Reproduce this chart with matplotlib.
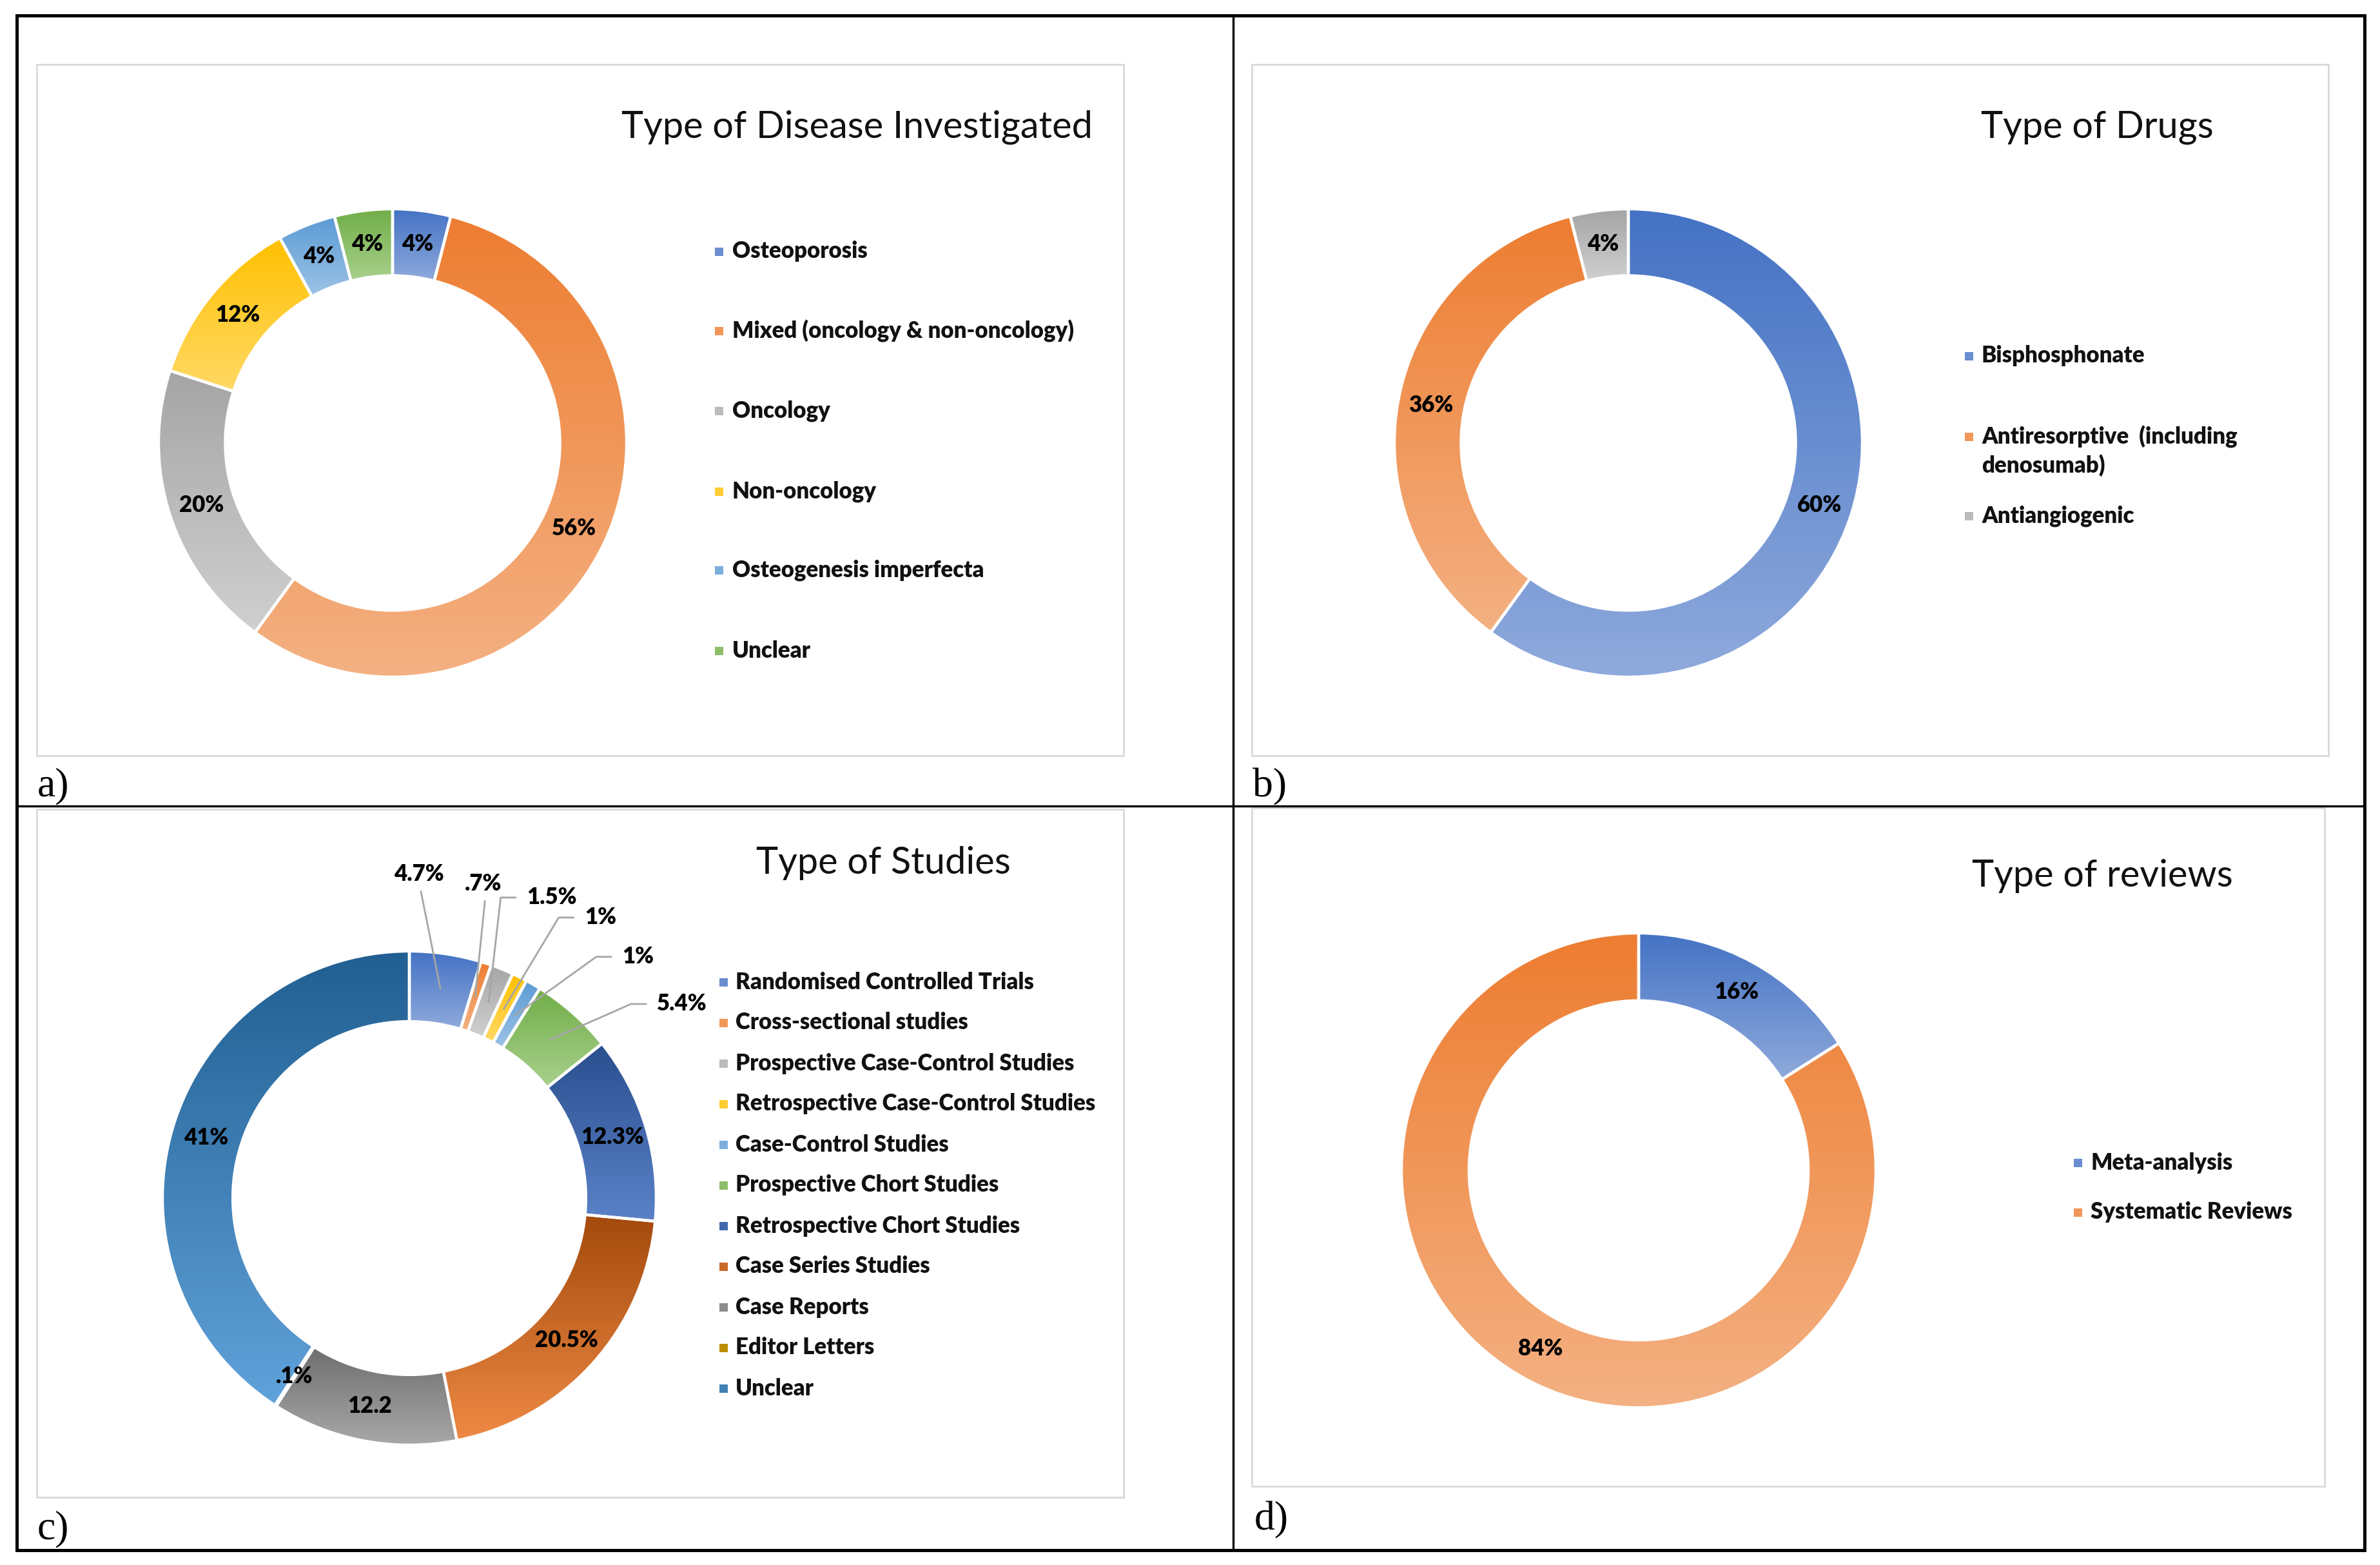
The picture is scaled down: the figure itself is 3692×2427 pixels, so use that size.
import numpy as np
import matplotlib
matplotlib.use('Agg')
import matplotlib.pyplot as plt
from matplotlib.patches import Rectangle
from matplotlib.colors import to_rgb

W, H = 3692, 2427

# ---- data ----
disease_labels = ['Osteoporosis', 'Mixed (oncology & non-oncology)', 'Oncology',
                  'Non-oncology', 'Osteogenesis imperfecta', 'Unclear']
disease_values = [4, 56, 20, 12, 4, 4]
disease_text = ['4%', '56%', '20%', '12%', '4%', '4%']

drug_labels = ['Bisphosphonate', 'Antiresorptive  (including\ndenosumab)', 'Antiangiogenic']
drug_values = [60, 36, 4]
drug_text = ['60%', '36%', '4%']

study_labels = ['Randomised Controlled Trials', 'Cross-sectional studies',
                'Prospective Case-Control Studies', 'Retrospective Case-Control Studies',
                'Case-Control Studies', 'Prospective Chort Studies',
                'Retrospective Chort Studies', 'Case Series Studies', 'Case Reports',
                'Editor Letters', 'Unclear']
study_values = [4.7, 0.7, 1.5, 1, 1, 5.4, 12.3, 20.5, 12.2, 0.1, 41]
study_text = ['4.7%', '.7%', '1.5%', '1%', '1%', '5.4%', '12.3%', '20.5%', '12.2', '.1%', '41%']

review_labels = ['Meta-analysis', 'Systematic Reviews']
review_values = [16, 84]
review_text = ['16%', '84%']

# gradient colours (top, bottom), office palette
blue = ('#4472C4', '#8FAADC')
orange = ('#ED7D31', '#F4B183')
gray = ('#A5A5A5', '#D0D0D0')
gold = ('#FFC000', '#FFD966')
lblue = ('#5B9BD5', '#9DC3E6')
green = ('#70AD47', '#A9D18E')
dblue = ('#2A4F8F', '#5B82C8')
dorange = ('#A34A0C', '#EF8A45')
dgray = ('#6E6E6E', '#A8A8A8')
dgold = ('#997300', '#E0A800')
dlblue = ('#215F92', '#60A2DA')

six = [blue, orange, gray, gold, lblue, green]
study_colors = six + [dblue, dorange, dgray, dgold, dlblue]

FONT = 'Lato'
WEIGHT = 'heavy'
WIDTH = 0.285
LABEL_SIZE = 25


def mix(pair):
    a, b = np.array(to_rgb(pair[0])), np.array(to_rgb(pair[1]))
    return tuple((a + b) / 2)


def donut(cx, cy, R, values, colors, texts, inside):
    ax = fig.add_axes([(cx - R) / W, (H - cy - R) / H, 2 * R / W, 2 * R / H])
    ax.set_zorder(2)
    wedges, _ = ax.pie(values, startangle=90, counterclock=False, radius=1,
                       wedgeprops=dict(width=WIDTH, edgecolor='white', linewidth=3.2))
    for w, c in zip(wedges, colors):
        ext = w.get_path().get_extents()
        grad = np.linspace(to_rgb(c[0]), to_rgb(c[1]), 256)[:, None, :]
        im = ax.imshow(grad, extent=(ext.x0, ext.x1, ext.y0, ext.y1), origin='upper',
                       aspect='auto', interpolation='bilinear', zorder=1)
        im.set_clip_path(w)
        w.set_facecolor('none')
        w.set_zorder(2)
    ax.set_xlim(-1, 1)
    ax.set_ylim(-1, 1)
    ax.set_aspect('equal')
    ax.axis('off')
    rm = 1 - WIDTH / 2
    for i in inside:
        w = wedges[i]
        a = np.deg2rad((w.theta1 + w.theta2) / 2)
        ax.text(rm * np.cos(a), rm * np.sin(a), texts[i], ha='center', va='center',
                fontsize=LABEL_SIZE, fontweight=WEIGHT, family=FONT, color='black', zorder=5)
    return ax, wedges


def legend(labels, colors, mx, tx, rows, gap=45):
    for lab, c, ry in zip(labels, colors, rows):
        base.add_patch(Rectangle((mx - 6.5, ry - 6.5), 13, 13, color=mix(c), lw=0))
        for k, line in enumerate(lab.split('\n')):
            base.text(tx, ry + k * gap, line, ha='left', va='center', fontsize=LABEL_SIZE,
                      fontweight=WEIGHT, family=FONT, color='#111111')


fig = plt.figure(figsize=(W / 100, H / 100), dpi=100)
base = fig.add_axes([0, 0, 1, 1])
base.set_xlim(0, W)
base.set_ylim(H, 0)
base.axis('off')
base.set_zorder(0)

# frame and panel dividers
base.add_patch(Rectangle((26, 24), 3642, 2380, fill=False, ec='black', lw=3.6))
base.plot([1913, 1913], [24, 2404], color='black', lw=2.4)
base.plot([26, 3668], [1250, 1250], color='black', lw=2.4)

# chart-area boxes
for x0, y0, x1, y1 in [(57, 100, 1743, 1172), (1942, 100, 3612, 1172),
                       (57, 1255, 1743, 2322), (1942, 1253, 3606, 2305)]:
    base.add_patch(Rectangle((x0, y0), x1 - x0, y1 - y0, fill=False, ec='#D9D9D9', lw=2))

# panel letters
for s, x, y in [('a)', 58, 1234), ('b)', 1943, 1235), ('c)', 58, 2386), ('d)', 1946, 2372)]:
    base.text(x, y, s, family='Liberation Serif', fontsize=46, va='baseline', ha='left')

# titles
for s, x, y in [('Type of Disease Investigated', 1330, 213), ('Type of Drugs', 3253, 213),
                ('Type of Studies', 1370, 1355), ('Type of reviews', 3261, 1375)]:
    base.text(x, y, s, family=FONT, fontsize=41.5, va='baseline', ha='center', color='#111111')

# panel a
donut(609, 687, 363, disease_values, six, disease_text, range(6))
legend(disease_labels, six, 1115, 1136, [390, 513, 637, 762, 884, 1009])

# panel b
donut(2526, 687, 363, drug_values, [blue, orange, gray], drug_text, range(3))
legend(drug_labels, [blue, orange, gray], 3054, 3074, [552, 677, 800])

# panel d
donut(2542, 1815, 368, review_values, [blue, orange], review_text, range(2))
legend(review_labels, [blue, orange], 3223, 3243, [1803, 1880])

# panel c
axc, wc = donut(635, 1858, 383, study_values, study_colors, study_text, range(6, 11))
legend(study_labels, study_colors, 1122, 1141, [1523 + 63 * i for i in range(11)])

# outside labels with leader lines (label anchor, style)
outside = [(0.039, 1.311, 'below'), (0.298, 1.272, 'below'), (0.475, 1.217, 'left'),
           (0.710, 1.136, 'left'), (0.862, 0.977, 'left'), (1.003, 0.786, 'left')]
rm = 1 - WIDTH / 2
for i, (lx, ly, style) in enumerate(outside):
    w = wc[i]
    a = np.deg2rad((w.theta1 + w.theta2) / 2)
    tx_, ty_ = rm * np.cos(a), rm * np.sin(a)
    if style == 'below':
        axc.text(lx, ly, study_text[i], ha='center', va='center', fontsize=LABEL_SIZE,
                 fontweight=WEIGHT, family=FONT, zorder=5)
        xs, ys = [tx_, lx + 0.008], [ty_, ly - 0.07]
    else:
        axc.text(lx, ly, study_text[i], ha='left', va='center', fontsize=LABEL_SIZE,
                 fontweight=WEIGHT, family=FONT, zorder=5)
        xs, ys = [tx_, lx - 0.105, lx - 0.045], [ty_, ly, ly]
    axc.plot(xs, ys, color='#A6A6A6', lw=2, clip_on=False, zorder=4)

fig.savefig('out.png', dpi=100, facecolor='white')
